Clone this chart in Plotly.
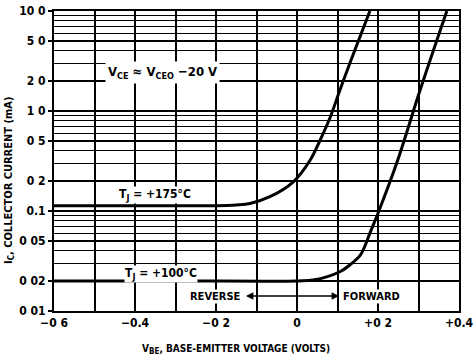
import plotly.graph_objects as go
import math

# ---- data ----
v_175 = [-0.6, -0.4, -0.2, -0.15, -0.116, -0.067, -0.009, 0.032, 0.057, 0.081, 0.106, 0.133, 0.18]
i_175 = [0.113, 0.113, 0.113, 0.115, 0.119, 0.139, 0.196, 0.32, 0.51, 0.845, 1.62, 3.2, 10.0]

v_100 = [-0.6, -0.3, 0.0, 0.04, 0.106, 0.131, 0.156, 0.168, 0.18, 0.2, 0.246, 0.304, 0.37]
i_100 = [0.02, 0.02, 0.02, 0.0204, 0.0247, 0.029, 0.036, 0.045, 0.06, 0.095, 0.3, 1.62, 10.0]

x_tickvals = [-0.6, -0.4, -0.2, 0.0, 0.2, 0.4]
x_ticktext = ["\u22120 6", "\u22120.4", "\u22120 2", "0", "+0 2", "+0.4"]
y_tickvals = [10, 5, 2, 1, 0.5, 0.2, 0.1, 0.05, 0.02, 0.01]
y_ticktext = ["10 0", "5 0", "2 0", "1 0", "0 5", "0 2", "0.1", "0 05", "0 02", "0 01"]
y_minor = [m * 10 ** e for e in (-2, -1, 0) for m in range(1, 10)] + [10]

FONT = "DejaVu Sans Condensed, Liberation Sans Narrow, DejaVu Sans, sans-serif"


def sub(t, size=8, shift=3):
    return f"<span style='font-size:{size}px;baseline-shift:-{shift}px'>{t}</span>"


fig = go.Figure()
for v, i in ((v_175, i_175), (v_100, i_100)):
    fig.add_trace(go.Scatter(x=v, y=i, mode="lines", line=dict(color="black", width=3, shape="spline", smoothing=1),
                             showlegend=False, hoverinfo="skip"))

fig.update_layout(
    width=476, height=360,
    margin=dict(l=54, r=17, t=11, b=49, autoexpand=False),
    paper_bgcolor="white", plot_bgcolor="white",
    font=dict(family=FONT, color="black", size=11),
    showlegend=False,
)
fig.update_xaxes(
    range=[-0.6, 0.4], tickvals=x_tickvals, ticktext=x_ticktext, automargin=False,
    showgrid=True, gridcolor="black", gridwidth=2,
    minor=dict(tickvals=[-0.5, -0.3, -0.1, 0.1, 0.3], showgrid=True, gridcolor="black", gridwidth=2),
    showline=True, linecolor="black", linewidth=2, mirror=True,
    ticks="", zeroline=False,
    tickfont=dict(family=FONT, size=12, color="black", weight="bold"),
)
fig.update_yaxes(
    type="log", range=[-2, 1], tickvals=y_tickvals, ticktext=y_ticktext, automargin=False,
    showgrid=True, gridcolor="black", gridwidth=1.6,
    minor=dict(tickvals=y_minor, showgrid=True, gridcolor="black", gridwidth=1.2),
    showline=True, linecolor="black", linewidth=2, mirror=True,
    ticks="outside", ticklen=4, tickcolor="black", tickwidth=1.5,
    tickfont=dict(family=FONT, size=12, color="black", weight="bold"),
)

bold = dict(family=FONT, color="black", size=11, weight="bold")
fig.add_annotation(x=-0.474, y=math.log10(2.45), xref="x", yref="y", xanchor="left",
                   text="V" + sub("CE", 9) + " \u2248 V" + sub("CEO", 9) + " \u221220 V",
                   showarrow=False, bgcolor="white", font=dict(**{**bold, "size": 13}), borderpad=2)
fig.add_annotation(x=-0.35, y=math.log10(0.1445), xref="x", yref="y", xanchor="center",
                   text="T" + sub("J", 9) + " = +175\u00b0C", showarrow=False,
                   bgcolor="white", font=dict(**{**bold, "size": 12}), borderpad=0)
fig.add_annotation(x=-0.335, y=math.log10(0.0235), xref="x", yref="y", xanchor="center",
                   text="T" + sub("J", 9) + " = +100\u00b0C", showarrow=False,
                   bgcolor="white", font=dict(**{**bold, "size": 12}), borderpad=0)
# reverse / forward arrow
ya = math.log10(0.0141)
fig.add_annotation(x=0.104, y=ya, ax=-0.13, ay=ya, xref="x", yref="y", axref="x", ayref="y",
                   text="", showarrow=True, arrowhead=2, arrowside="end+start", arrowwidth=1.5,
                   arrowsize=1, arrowcolor="black")
fig.add_annotation(x=-0.135, y=ya, xref="x", yref="y", xanchor="right", text="REVERSE",
                   showarrow=False, bgcolor="white", font=bold, borderpad=0)
fig.add_annotation(x=0.112, y=ya, xref="x", yref="y", xanchor="left", text="FORWARD",
                   showarrow=False, bgcolor="white", font=bold, borderpad=0)
# axis titles
fig.add_annotation(x=(236 - 54) / 405, y=-(349 - 311) / 300, xref="paper", yref="paper", showarrow=False,
                   text="V" + sub("BE", 8, 2) + ", BASE-EMITTER VOLTAGE (VOLTS)",
                   font=dict(**{**bold, "size": 10}), xanchor="center", yanchor="middle")
fig.add_annotation(x=-(54 - 9) / 405, y=(311 - 180) / 300, xref="paper", yref="paper", showarrow=False,
                   text="I" + sub("C", 8, 2) + ", COLLECTOR CURRENT (mA)", textangle=-90, font=bold,
                   xanchor="center", yanchor="middle")

fig.write_html("out.html")
